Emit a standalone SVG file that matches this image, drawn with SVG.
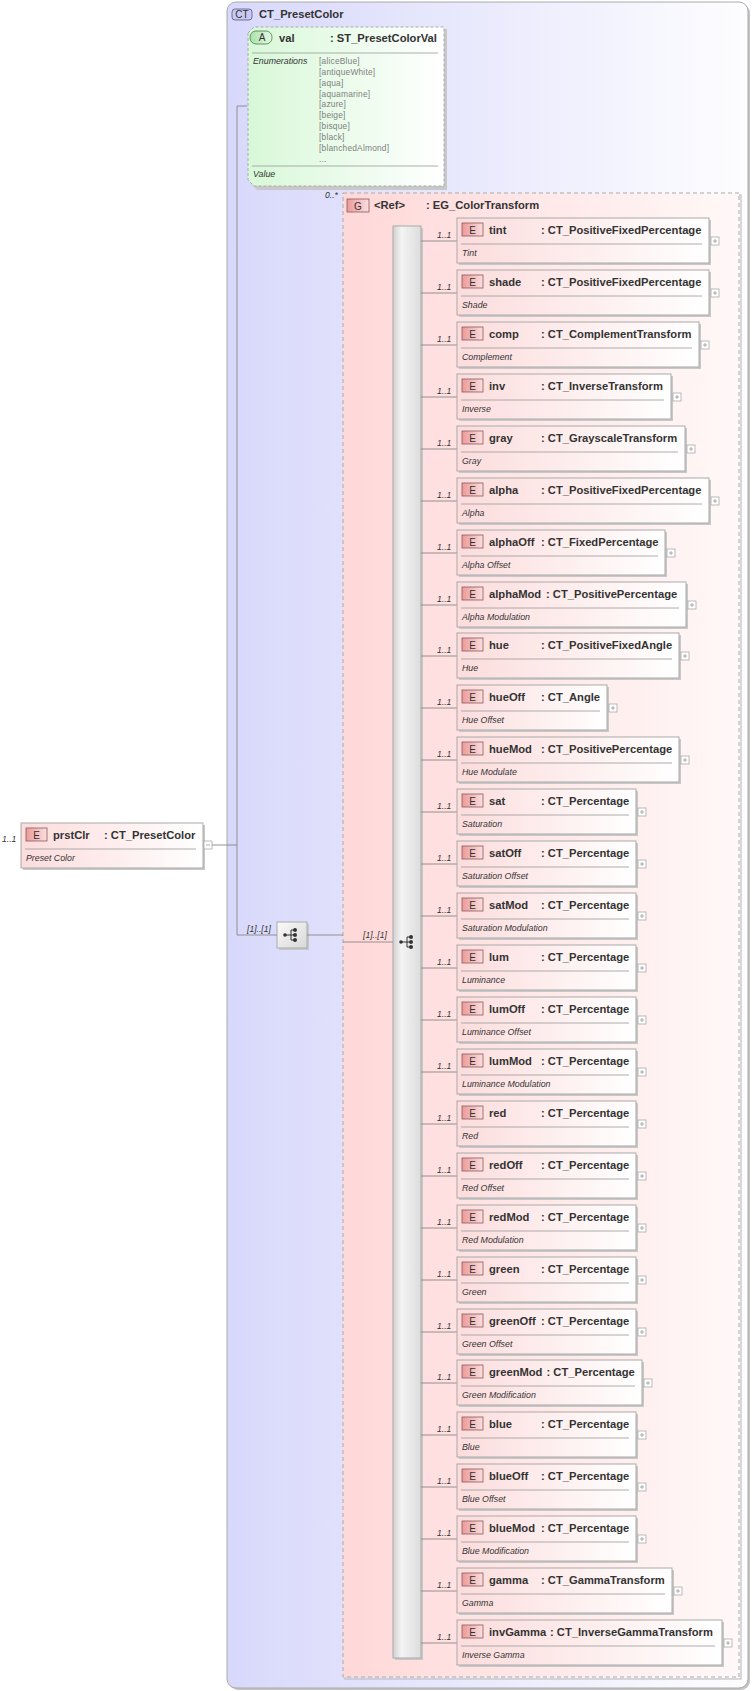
<svg xmlns="http://www.w3.org/2000/svg" width="753" height="1691" viewBox="0 0 753 1691">
<defs>
<linearGradient id="gCT" x1="0" y1="0" x2="1" y2="0"><stop offset="0" stop-color="#d8d8fb"/><stop offset="1" stop-color="#fdfdff"/></linearGradient>
<linearGradient id="gGrp" x1="0" y1="0" x2="1" y2="0"><stop offset="0" stop-color="#ffd8d8"/><stop offset="1" stop-color="#fff8f8"/></linearGradient>
<linearGradient id="gEl" x1="0" y1="0" x2="1" y2="0"><stop offset="0" stop-color="#fcdcdc"/><stop offset="1" stop-color="#ffffff"/></linearGradient>
<linearGradient id="gAt" x1="0" y1="0" x2="1" y2="0"><stop offset="0" stop-color="#d8f8d8"/><stop offset="1" stop-color="#ffffff"/></linearGradient>
<linearGradient id="gBadgeE" x1="0" y1="0" x2="1" y2="0"><stop offset="0" stop-color="#ec9a9a"/><stop offset="1" stop-color="#fbdede"/></linearGradient>
<linearGradient id="gBadgeA" x1="0" y1="0" x2="1" y2="0"><stop offset="0" stop-color="#a8e0a8"/><stop offset="1" stop-color="#e4fae4"/></linearGradient>
<linearGradient id="gBar" x1="0" y1="0" x2="1" y2="0"><stop offset="0" stop-color="#d0d0d0"/><stop offset="0.3" stop-color="#f4f4f4"/><stop offset="1" stop-color="#dcdcdc"/></linearGradient>
<linearGradient id="gSeq" x1="0" y1="0" x2="1" y2="1"><stop offset="0" stop-color="#fafafa"/><stop offset="1" stop-color="#d8d8d8"/></linearGradient>
<g id="seqIcon">
<line x1="-7" y1="0" x2="-1" y2="0" stroke="#333" stroke-width="1"/>
<line x1="-1" y1="-5" x2="-1" y2="5" stroke="#333" stroke-width="1"/>
<line x1="-1" y1="-5" x2="3" y2="-5" stroke="#333" stroke-width="1"/>
<line x1="-1" y1="5" x2="3" y2="5" stroke="#333" stroke-width="1"/>
<line x1="-1" y1="0" x2="3" y2="0" stroke="#333" stroke-width="1"/>
<circle cx="-7" cy="0" r="1.8" fill="#333"/>
<circle cx="3" cy="-5" r="2" fill="#333"/>
<circle cx="3" cy="0" r="2" fill="#333"/>
<circle cx="3" cy="5" r="2" fill="#333"/>
</g>
<g id="plusBox">
<rect x="0" y="0" width="8" height="8" fill="#fff" stroke="#aaa" stroke-width="0.8"/>
<line x1="2" y1="4" x2="6" y2="4" stroke="#999" stroke-width="0.8"/>
<line x1="4" y1="2" x2="4" y2="6" stroke="#999" stroke-width="0.8"/>
</g>
</defs>
<style>
text{font-family:"Liberation Sans",Arial,sans-serif;fill:#333}
.nm{font-size:11.2px;font-weight:bold}
.ds{font-size:8.8px;font-style:italic}
.bl{font-size:10px;text-anchor:middle}
.card{font-size:8.6px;font-style:italic}
.enum{font-size:8.4px;fill:#808080;letter-spacing:0.2px}
.ebox{fill:url(#gEl);stroke:#aaa;stroke-width:1}
.shd{fill:#c8c8c8}
.badge{fill:url(#gBadgeE);stroke:#8a5a5a;stroke-width:0.8}
.sep{stroke:#999;stroke-width:0.8}
.cn{stroke:#888;stroke-width:0.9;fill:none}
</style>

<g id="CT_PresetColor">
<rect x="229" y="4" width="521" height="1686" rx="9" fill="#c4c4c4"/>
<rect x="227" y="2" width="521" height="1686" rx="9" fill="url(#gCT)" stroke="#aaa" stroke-width="1"/>
<rect x="232" y="9" width="20" height="11" rx="3" fill="#c8c8f0" stroke="#555588" stroke-width="0.8"/>
<text class="bl" x="242" y="18">CT</text>
<text class="nm" x="259" y="18">CT_PresetColor</text>
</g>

<g id="attr_val">
<path d="M250 29 L255 27 L445 27 L445 188 L255 188 L250 183 Z" fill="#c8c8c8" transform="translate(2,2)"/>
<path d="M248 33 L254 27 L444 27 L444 186 L254 186 L248 180 Z" fill="url(#gAt)" stroke="#aaa" stroke-width="1" stroke-dasharray="3,2"/>
<rect x="250" y="31" width="22" height="13" rx="6" fill="url(#gBadgeA)" stroke="#4a7a4a" stroke-width="0.8"/>
<text class="bl" x="262" y="41">A</text>
<text class="nm" x="279" y="42">val</text>
<text class="nm" x="330" y="42">: ST_PresetColorVal</text>
<line class="sep" x1="252" y1="53" x2="438" y2="53"/>
<text class="ds" x="253" y="64">Enumerations</text>
<text class="enum" x="319" y="64">[aliceBlue]</text>
<text class="enum" x="319" y="75">[antiqueWhite]</text>
<text class="enum" x="319" y="86">[aqua]</text>
<text class="enum" x="319" y="97">[aquamarine]</text>
<text class="enum" x="319" y="107">[azure]</text>
<text class="enum" x="319" y="118">[beige]</text>
<text class="enum" x="319" y="129">[bisque]</text>
<text class="enum" x="319" y="140">[black]</text>
<text class="enum" x="319" y="151">[blanchedAlmond]</text>
<text class="enum" x="319" y="162">...</text>
<line class="sep" x1="252" y1="166" x2="438" y2="166"/>
<text class="ds" x="253" y="177">Value</text>
</g>

<g id="prstClr">
<rect x="23" y="825" width="182" height="45" class="shd"/>
<rect x="21" y="823" width="182" height="45" class="ebox"/>
<rect x="26" y="828" width="21" height="13" class="badge"/>
<text class="bl" x="36.5" y="838.5">E</text>
<text class="nm" x="53" y="839">prstClr</text>
<text class="nm" x="104" y="839">: CT_PresetColor</text>
<line class="sep" x1="25" y1="849" x2="196" y2="849"/>
<text class="ds" x="26" y="861">Preset Color</text>
<rect x="204" y="841" width="8" height="8" fill="#fff" stroke="#aaa" stroke-width="0.8"/>
<line x1="206" y1="845" x2="210" y2="845" stroke="#999" stroke-width="0.8"/>
</g>

<g id="seq_outer">
<rect x="279" y="924" width="30" height="26" fill="#c8c8c8"/>
<rect x="277" y="922" width="30" height="26" fill="url(#gSeq)" stroke="#aaa" stroke-width="1"/>
<use href="#seqIcon" x="292" y="935"/>
</g>

<g id="EG_ColorTransform">
<rect x="345" y="195" width="396" height="1484" fill="none" stroke="#c0c0c0" stroke-width="1.2"/>
<rect x="343" y="193" width="396" height="1484" fill="url(#gGrp)" stroke="#aaa" stroke-width="1" stroke-dasharray="4,3"/>
<rect x="347" y="199" width="22" height="13" fill="url(#gBadgeE)" stroke="#8a5a5a" stroke-width="0.8"/>
<text class="bl" x="358" y="209.5">G</text>
<text class="nm" x="374" y="209">&lt;Ref&gt;</text>
<text class="nm" x="426" y="209">: EG_ColorTransform</text>
</g>

<g id="seq_inner">
<rect x="395" y="228" width="28" height="1432" fill="#c8c8c8"/>
<rect x="393" y="226" width="28" height="1432" fill="url(#gBar)" stroke="#aaa" stroke-width="1"/>
<use href="#seqIcon" x="408" y="942"/>
</g>

<g id="connectors">
<polyline class="cn" points="212,845 237,845"/>
<polyline class="cn" points="247,106 237,106 237,935 277,935"/>
<polyline class="cn" points="307,935 343,935"/>
<polyline class="cn" points="343,942 393,942"/>
<text class="card" x="2" y="842">1..1</text>
<text class="card" x="325" y="198">0..*</text>
<text class="card" x="247" y="932">[1]..[1]</text>
<text class="card" x="363" y="938">[1]..[1]</text>
<g transform="translate(0,218)"><line class="cn" x1="421" y1="23" x2="457" y2="23"/><text class="card" x="437" y="20">1..1</text></g>
<g transform="translate(0,270)"><line class="cn" x1="421" y1="23" x2="457" y2="23"/><text class="card" x="437" y="20">1..1</text></g>
<g transform="translate(0,322)"><line class="cn" x1="421" y1="23" x2="457" y2="23"/><text class="card" x="437" y="20">1..1</text></g>
<g transform="translate(0,374)"><line class="cn" x1="421" y1="23" x2="457" y2="23"/><text class="card" x="437" y="20">1..1</text></g>
<g transform="translate(0,426)"><line class="cn" x1="421" y1="23" x2="457" y2="23"/><text class="card" x="437" y="20">1..1</text></g>
<g transform="translate(0,478)"><line class="cn" x1="421" y1="23" x2="457" y2="23"/><text class="card" x="437" y="20">1..1</text></g>
<g transform="translate(0,530)"><line class="cn" x1="421" y1="23" x2="457" y2="23"/><text class="card" x="437" y="20">1..1</text></g>
<g transform="translate(0,582)"><line class="cn" x1="421" y1="23" x2="457" y2="23"/><text class="card" x="437" y="20">1..1</text></g>
<g transform="translate(0,633)"><line class="cn" x1="421" y1="23" x2="457" y2="23"/><text class="card" x="437" y="20">1..1</text></g>
<g transform="translate(0,685)"><line class="cn" x1="421" y1="23" x2="457" y2="23"/><text class="card" x="437" y="20">1..1</text></g>
<g transform="translate(0,737)"><line class="cn" x1="421" y1="23" x2="457" y2="23"/><text class="card" x="437" y="20">1..1</text></g>
<g transform="translate(0,789)"><line class="cn" x1="421" y1="23" x2="457" y2="23"/><text class="card" x="437" y="20">1..1</text></g>
<g transform="translate(0,841)"><line class="cn" x1="421" y1="23" x2="457" y2="23"/><text class="card" x="437" y="20">1..1</text></g>
<g transform="translate(0,893)"><line class="cn" x1="421" y1="23" x2="457" y2="23"/><text class="card" x="437" y="20">1..1</text></g>
<g transform="translate(0,945)"><line class="cn" x1="421" y1="23" x2="457" y2="23"/><text class="card" x="437" y="20">1..1</text></g>
<g transform="translate(0,997)"><line class="cn" x1="421" y1="23" x2="457" y2="23"/><text class="card" x="437" y="20">1..1</text></g>
<g transform="translate(0,1049)"><line class="cn" x1="421" y1="23" x2="457" y2="23"/><text class="card" x="437" y="20">1..1</text></g>
<g transform="translate(0,1101)"><line class="cn" x1="421" y1="23" x2="457" y2="23"/><text class="card" x="437" y="20">1..1</text></g>
<g transform="translate(0,1153)"><line class="cn" x1="421" y1="23" x2="457" y2="23"/><text class="card" x="437" y="20">1..1</text></g>
<g transform="translate(0,1205)"><line class="cn" x1="421" y1="23" x2="457" y2="23"/><text class="card" x="437" y="20">1..1</text></g>
<g transform="translate(0,1257)"><line class="cn" x1="421" y1="23" x2="457" y2="23"/><text class="card" x="437" y="20">1..1</text></g>
<g transform="translate(0,1309)"><line class="cn" x1="421" y1="23" x2="457" y2="23"/><text class="card" x="437" y="20">1..1</text></g>
<g transform="translate(0,1360)"><line class="cn" x1="421" y1="23" x2="457" y2="23"/><text class="card" x="437" y="20">1..1</text></g>
<g transform="translate(0,1412)"><line class="cn" x1="421" y1="23" x2="457" y2="23"/><text class="card" x="437" y="20">1..1</text></g>
<g transform="translate(0,1464)"><line class="cn" x1="421" y1="23" x2="457" y2="23"/><text class="card" x="437" y="20">1..1</text></g>
<g transform="translate(0,1516)"><line class="cn" x1="421" y1="23" x2="457" y2="23"/><text class="card" x="437" y="20">1..1</text></g>
<g transform="translate(0,1568)"><line class="cn" x1="421" y1="23" x2="457" y2="23"/><text class="card" x="437" y="20">1..1</text></g>
<g transform="translate(0,1620)"><line class="cn" x1="421" y1="23" x2="457" y2="23"/><text class="card" x="437" y="20">1..1</text></g>
</g>

<g id="el_tint" transform="translate(0,218)"><rect class="shd" x="459" y="2" width="252" height="45"/><rect class="ebox" x="457" y="0" width="252" height="45"/><rect class="badge" x="462" y="5" width="21" height="13"/><text class="bl" x="472.5" y="15.5">E</text><text class="nm" x="489" y="16">tint</text><text class="nm" x="541" y="16">: CT_PositiveFixedPercentage</text><line class="sep" x1="461" y1="26" x2="702" y2="26"/><text class="ds" x="462" y="38">Tint</text><use href="#plusBox" x="711" y="19"/></g>
<g id="el_shade" transform="translate(0,270)"><rect class="shd" x="459" y="2" width="252" height="45"/><rect class="ebox" x="457" y="0" width="252" height="45"/><rect class="badge" x="462" y="5" width="21" height="13"/><text class="bl" x="472.5" y="15.5">E</text><text class="nm" x="489" y="16">shade</text><text class="nm" x="541" y="16">: CT_PositiveFixedPercentage</text><line class="sep" x1="461" y1="26" x2="702" y2="26"/><text class="ds" x="462" y="38">Shade</text><use href="#plusBox" x="711" y="19"/></g>
<g id="el_comp" transform="translate(0,322)"><rect class="shd" x="459" y="2" width="242" height="45"/><rect class="ebox" x="457" y="0" width="242" height="45"/><rect class="badge" x="462" y="5" width="21" height="13"/><text class="bl" x="472.5" y="15.5">E</text><text class="nm" x="489" y="16">comp</text><text class="nm" x="541" y="16">: CT_ComplementTransform</text><line class="sep" x1="461" y1="26" x2="692" y2="26"/><text class="ds" x="462" y="38">Complement</text><use href="#plusBox" x="701" y="19"/></g>
<g id="el_inv" transform="translate(0,374)"><rect class="shd" x="459" y="2" width="214" height="45"/><rect class="ebox" x="457" y="0" width="214" height="45"/><rect class="badge" x="462" y="5" width="21" height="13"/><text class="bl" x="472.5" y="15.5">E</text><text class="nm" x="489" y="16">inv</text><text class="nm" x="541" y="16">: CT_InverseTransform</text><line class="sep" x1="461" y1="26" x2="664" y2="26"/><text class="ds" x="462" y="38">Inverse</text><use href="#plusBox" x="673" y="19"/></g>
<g id="el_gray" transform="translate(0,426)"><rect class="shd" x="459" y="2" width="228" height="45"/><rect class="ebox" x="457" y="0" width="228" height="45"/><rect class="badge" x="462" y="5" width="21" height="13"/><text class="bl" x="472.5" y="15.5">E</text><text class="nm" x="489" y="16">gray</text><text class="nm" x="541" y="16">: CT_GrayscaleTransform</text><line class="sep" x1="461" y1="26" x2="678" y2="26"/><text class="ds" x="462" y="38">Gray</text><use href="#plusBox" x="687" y="19"/></g>
<g id="el_alpha" transform="translate(0,478)"><rect class="shd" x="459" y="2" width="252" height="45"/><rect class="ebox" x="457" y="0" width="252" height="45"/><rect class="badge" x="462" y="5" width="21" height="13"/><text class="bl" x="472.5" y="15.5">E</text><text class="nm" x="489" y="16">alpha</text><text class="nm" x="541" y="16">: CT_PositiveFixedPercentage</text><line class="sep" x1="461" y1="26" x2="702" y2="26"/><text class="ds" x="462" y="38">Alpha</text><use href="#plusBox" x="711" y="19"/></g>
<g id="el_alphaOff" transform="translate(0,530)"><rect class="shd" x="459" y="2" width="208" height="45"/><rect class="ebox" x="457" y="0" width="208" height="45"/><rect class="badge" x="462" y="5" width="21" height="13"/><text class="bl" x="472.5" y="15.5">E</text><text class="nm" x="489" y="16">alphaOff</text><text class="nm" x="541" y="16">: CT_FixedPercentage</text><line class="sep" x1="461" y1="26" x2="658" y2="26"/><text class="ds" x="462" y="38">Alpha Offset</text><use href="#plusBox" x="667" y="19"/></g>
<g id="el_alphaMod" transform="translate(0,582)"><rect class="shd" x="459" y="2" width="229" height="45"/><rect class="ebox" x="457" y="0" width="229" height="45"/><rect class="badge" x="462" y="5" width="21" height="13"/><text class="bl" x="472.5" y="15.5">E</text><text class="nm" x="489" y="16">alphaMod</text><text class="nm" x="546" y="16">: CT_PositivePercentage</text><line class="sep" x1="461" y1="26" x2="679" y2="26"/><text class="ds" x="462" y="38">Alpha Modulation</text><use href="#plusBox" x="688" y="19"/></g>
<g id="el_hue" transform="translate(0,633)"><rect class="shd" x="459" y="2" width="222" height="45"/><rect class="ebox" x="457" y="0" width="222" height="45"/><rect class="badge" x="462" y="5" width="21" height="13"/><text class="bl" x="472.5" y="15.5">E</text><text class="nm" x="489" y="16">hue</text><text class="nm" x="541" y="16">: CT_PositiveFixedAngle</text><line class="sep" x1="461" y1="26" x2="672" y2="26"/><text class="ds" x="462" y="38">Hue</text><use href="#plusBox" x="681" y="19"/></g>
<g id="el_hueOff" transform="translate(0,685)"><rect class="shd" x="459" y="2" width="150" height="45"/><rect class="ebox" x="457" y="0" width="150" height="45"/><rect class="badge" x="462" y="5" width="21" height="13"/><text class="bl" x="472.5" y="15.5">E</text><text class="nm" x="489" y="16">hueOff</text><text class="nm" x="541" y="16">: CT_Angle</text><line class="sep" x1="461" y1="26" x2="600" y2="26"/><text class="ds" x="462" y="38">Hue Offset</text><use href="#plusBox" x="609" y="19"/></g>
<g id="el_hueMod" transform="translate(0,737)"><rect class="shd" x="459" y="2" width="222" height="45"/><rect class="ebox" x="457" y="0" width="222" height="45"/><rect class="badge" x="462" y="5" width="21" height="13"/><text class="bl" x="472.5" y="15.5">E</text><text class="nm" x="489" y="16">hueMod</text><text class="nm" x="541" y="16">: CT_PositivePercentage</text><line class="sep" x1="461" y1="26" x2="672" y2="26"/><text class="ds" x="462" y="38">Hue Modulate</text><use href="#plusBox" x="681" y="19"/></g>
<g id="el_sat" transform="translate(0,789)"><rect class="shd" x="459" y="2" width="179" height="45"/><rect class="ebox" x="457" y="0" width="179" height="45"/><rect class="badge" x="462" y="5" width="21" height="13"/><text class="bl" x="472.5" y="15.5">E</text><text class="nm" x="489" y="16">sat</text><text class="nm" x="541" y="16">: CT_Percentage</text><line class="sep" x1="461" y1="26" x2="629" y2="26"/><text class="ds" x="462" y="38">Saturation</text><use href="#plusBox" x="638" y="19"/></g>
<g id="el_satOff" transform="translate(0,841)"><rect class="shd" x="459" y="2" width="179" height="45"/><rect class="ebox" x="457" y="0" width="179" height="45"/><rect class="badge" x="462" y="5" width="21" height="13"/><text class="bl" x="472.5" y="15.5">E</text><text class="nm" x="489" y="16">satOff</text><text class="nm" x="541" y="16">: CT_Percentage</text><line class="sep" x1="461" y1="26" x2="629" y2="26"/><text class="ds" x="462" y="38">Saturation Offset</text><use href="#plusBox" x="638" y="19"/></g>
<g id="el_satMod" transform="translate(0,893)"><rect class="shd" x="459" y="2" width="179" height="45"/><rect class="ebox" x="457" y="0" width="179" height="45"/><rect class="badge" x="462" y="5" width="21" height="13"/><text class="bl" x="472.5" y="15.5">E</text><text class="nm" x="489" y="16">satMod</text><text class="nm" x="541" y="16">: CT_Percentage</text><line class="sep" x1="461" y1="26" x2="629" y2="26"/><text class="ds" x="462" y="38">Saturation Modulation</text><use href="#plusBox" x="638" y="19"/></g>
<g id="el_lum" transform="translate(0,945)"><rect class="shd" x="459" y="2" width="179" height="45"/><rect class="ebox" x="457" y="0" width="179" height="45"/><rect class="badge" x="462" y="5" width="21" height="13"/><text class="bl" x="472.5" y="15.5">E</text><text class="nm" x="489" y="16">lum</text><text class="nm" x="541" y="16">: CT_Percentage</text><line class="sep" x1="461" y1="26" x2="629" y2="26"/><text class="ds" x="462" y="38">Luminance</text><use href="#plusBox" x="638" y="19"/></g>
<g id="el_lumOff" transform="translate(0,997)"><rect class="shd" x="459" y="2" width="179" height="45"/><rect class="ebox" x="457" y="0" width="179" height="45"/><rect class="badge" x="462" y="5" width="21" height="13"/><text class="bl" x="472.5" y="15.5">E</text><text class="nm" x="489" y="16">lumOff</text><text class="nm" x="541" y="16">: CT_Percentage</text><line class="sep" x1="461" y1="26" x2="629" y2="26"/><text class="ds" x="462" y="38">Luminance Offset</text><use href="#plusBox" x="638" y="19"/></g>
<g id="el_lumMod" transform="translate(0,1049)"><rect class="shd" x="459" y="2" width="179" height="45"/><rect class="ebox" x="457" y="0" width="179" height="45"/><rect class="badge" x="462" y="5" width="21" height="13"/><text class="bl" x="472.5" y="15.5">E</text><text class="nm" x="489" y="16">lumMod</text><text class="nm" x="541" y="16">: CT_Percentage</text><line class="sep" x1="461" y1="26" x2="629" y2="26"/><text class="ds" x="462" y="38">Luminance Modulation</text><use href="#plusBox" x="638" y="19"/></g>
<g id="el_red" transform="translate(0,1101)"><rect class="shd" x="459" y="2" width="179" height="45"/><rect class="ebox" x="457" y="0" width="179" height="45"/><rect class="badge" x="462" y="5" width="21" height="13"/><text class="bl" x="472.5" y="15.5">E</text><text class="nm" x="489" y="16">red</text><text class="nm" x="541" y="16">: CT_Percentage</text><line class="sep" x1="461" y1="26" x2="629" y2="26"/><text class="ds" x="462" y="38">Red</text><use href="#plusBox" x="638" y="19"/></g>
<g id="el_redOff" transform="translate(0,1153)"><rect class="shd" x="459" y="2" width="179" height="45"/><rect class="ebox" x="457" y="0" width="179" height="45"/><rect class="badge" x="462" y="5" width="21" height="13"/><text class="bl" x="472.5" y="15.5">E</text><text class="nm" x="489" y="16">redOff</text><text class="nm" x="541" y="16">: CT_Percentage</text><line class="sep" x1="461" y1="26" x2="629" y2="26"/><text class="ds" x="462" y="38">Red Offset</text><use href="#plusBox" x="638" y="19"/></g>
<g id="el_redMod" transform="translate(0,1205)"><rect class="shd" x="459" y="2" width="179" height="45"/><rect class="ebox" x="457" y="0" width="179" height="45"/><rect class="badge" x="462" y="5" width="21" height="13"/><text class="bl" x="472.5" y="15.5">E</text><text class="nm" x="489" y="16">redMod</text><text class="nm" x="541" y="16">: CT_Percentage</text><line class="sep" x1="461" y1="26" x2="629" y2="26"/><text class="ds" x="462" y="38">Red Modulation</text><use href="#plusBox" x="638" y="19"/></g>
<g id="el_green" transform="translate(0,1257)"><rect class="shd" x="459" y="2" width="179" height="45"/><rect class="ebox" x="457" y="0" width="179" height="45"/><rect class="badge" x="462" y="5" width="21" height="13"/><text class="bl" x="472.5" y="15.5">E</text><text class="nm" x="489" y="16">green</text><text class="nm" x="541" y="16">: CT_Percentage</text><line class="sep" x1="461" y1="26" x2="629" y2="26"/><text class="ds" x="462" y="38">Green</text><use href="#plusBox" x="638" y="19"/></g>
<g id="el_greenOff" transform="translate(0,1309)"><rect class="shd" x="459" y="2" width="179" height="45"/><rect class="ebox" x="457" y="0" width="179" height="45"/><rect class="badge" x="462" y="5" width="21" height="13"/><text class="bl" x="472.5" y="15.5">E</text><text class="nm" x="489" y="16">greenOff</text><text class="nm" x="541" y="16">: CT_Percentage</text><line class="sep" x1="461" y1="26" x2="629" y2="26"/><text class="ds" x="462" y="38">Green Offset</text><use href="#plusBox" x="638" y="19"/></g>
<g id="el_greenMod" transform="translate(0,1360)"><rect class="shd" x="459" y="2" width="185" height="45"/><rect class="ebox" x="457" y="0" width="185" height="45"/><rect class="badge" x="462" y="5" width="21" height="13"/><text class="bl" x="472.5" y="15.5">E</text><text class="nm" x="489" y="16">greenMod</text><text class="nm" x="546.5" y="16">: CT_Percentage</text><line class="sep" x1="461" y1="26" x2="635" y2="26"/><text class="ds" x="462" y="38">Green Modification</text><use href="#plusBox" x="644" y="19"/></g>
<g id="el_blue" transform="translate(0,1412)"><rect class="shd" x="459" y="2" width="179" height="45"/><rect class="ebox" x="457" y="0" width="179" height="45"/><rect class="badge" x="462" y="5" width="21" height="13"/><text class="bl" x="472.5" y="15.5">E</text><text class="nm" x="489" y="16">blue</text><text class="nm" x="541" y="16">: CT_Percentage</text><line class="sep" x1="461" y1="26" x2="629" y2="26"/><text class="ds" x="462" y="38">Blue</text><use href="#plusBox" x="638" y="19"/></g>
<g id="el_blueOff" transform="translate(0,1464)"><rect class="shd" x="459" y="2" width="179" height="45"/><rect class="ebox" x="457" y="0" width="179" height="45"/><rect class="badge" x="462" y="5" width="21" height="13"/><text class="bl" x="472.5" y="15.5">E</text><text class="nm" x="489" y="16">blueOff</text><text class="nm" x="541" y="16">: CT_Percentage</text><line class="sep" x1="461" y1="26" x2="629" y2="26"/><text class="ds" x="462" y="38">Blue Offset</text><use href="#plusBox" x="638" y="19"/></g>
<g id="el_blueMod" transform="translate(0,1516)"><rect class="shd" x="459" y="2" width="179" height="45"/><rect class="ebox" x="457" y="0" width="179" height="45"/><rect class="badge" x="462" y="5" width="21" height="13"/><text class="bl" x="472.5" y="15.5">E</text><text class="nm" x="489" y="16">blueMod</text><text class="nm" x="541" y="16">: CT_Percentage</text><line class="sep" x1="461" y1="26" x2="629" y2="26"/><text class="ds" x="462" y="38">Blue Modification</text><use href="#plusBox" x="638" y="19"/></g>
<g id="el_gamma" transform="translate(0,1568)"><rect class="shd" x="459" y="2" width="215" height="45"/><rect class="ebox" x="457" y="0" width="215" height="45"/><rect class="badge" x="462" y="5" width="21" height="13"/><text class="bl" x="472.5" y="15.5">E</text><text class="nm" x="489" y="16">gamma</text><text class="nm" x="541" y="16">: CT_GammaTransform</text><line class="sep" x1="461" y1="26" x2="665" y2="26"/><text class="ds" x="462" y="38">Gamma</text><use href="#plusBox" x="674" y="19"/></g>
<g id="el_invGamma" transform="translate(0,1620)"><rect class="shd" x="459" y="2" width="265" height="45"/><rect class="ebox" x="457" y="0" width="265" height="45"/><rect class="badge" x="462" y="5" width="21" height="13"/><text class="bl" x="472.5" y="15.5">E</text><text class="nm" x="489" y="16">invGamma</text><text class="nm" x="550" y="16">: CT_InverseGammaTransform</text><line class="sep" x1="461" y1="26" x2="715" y2="26"/><text class="ds" x="462" y="38">Inverse Gamma</text><use href="#plusBox" x="724" y="19"/></g>
</svg>
